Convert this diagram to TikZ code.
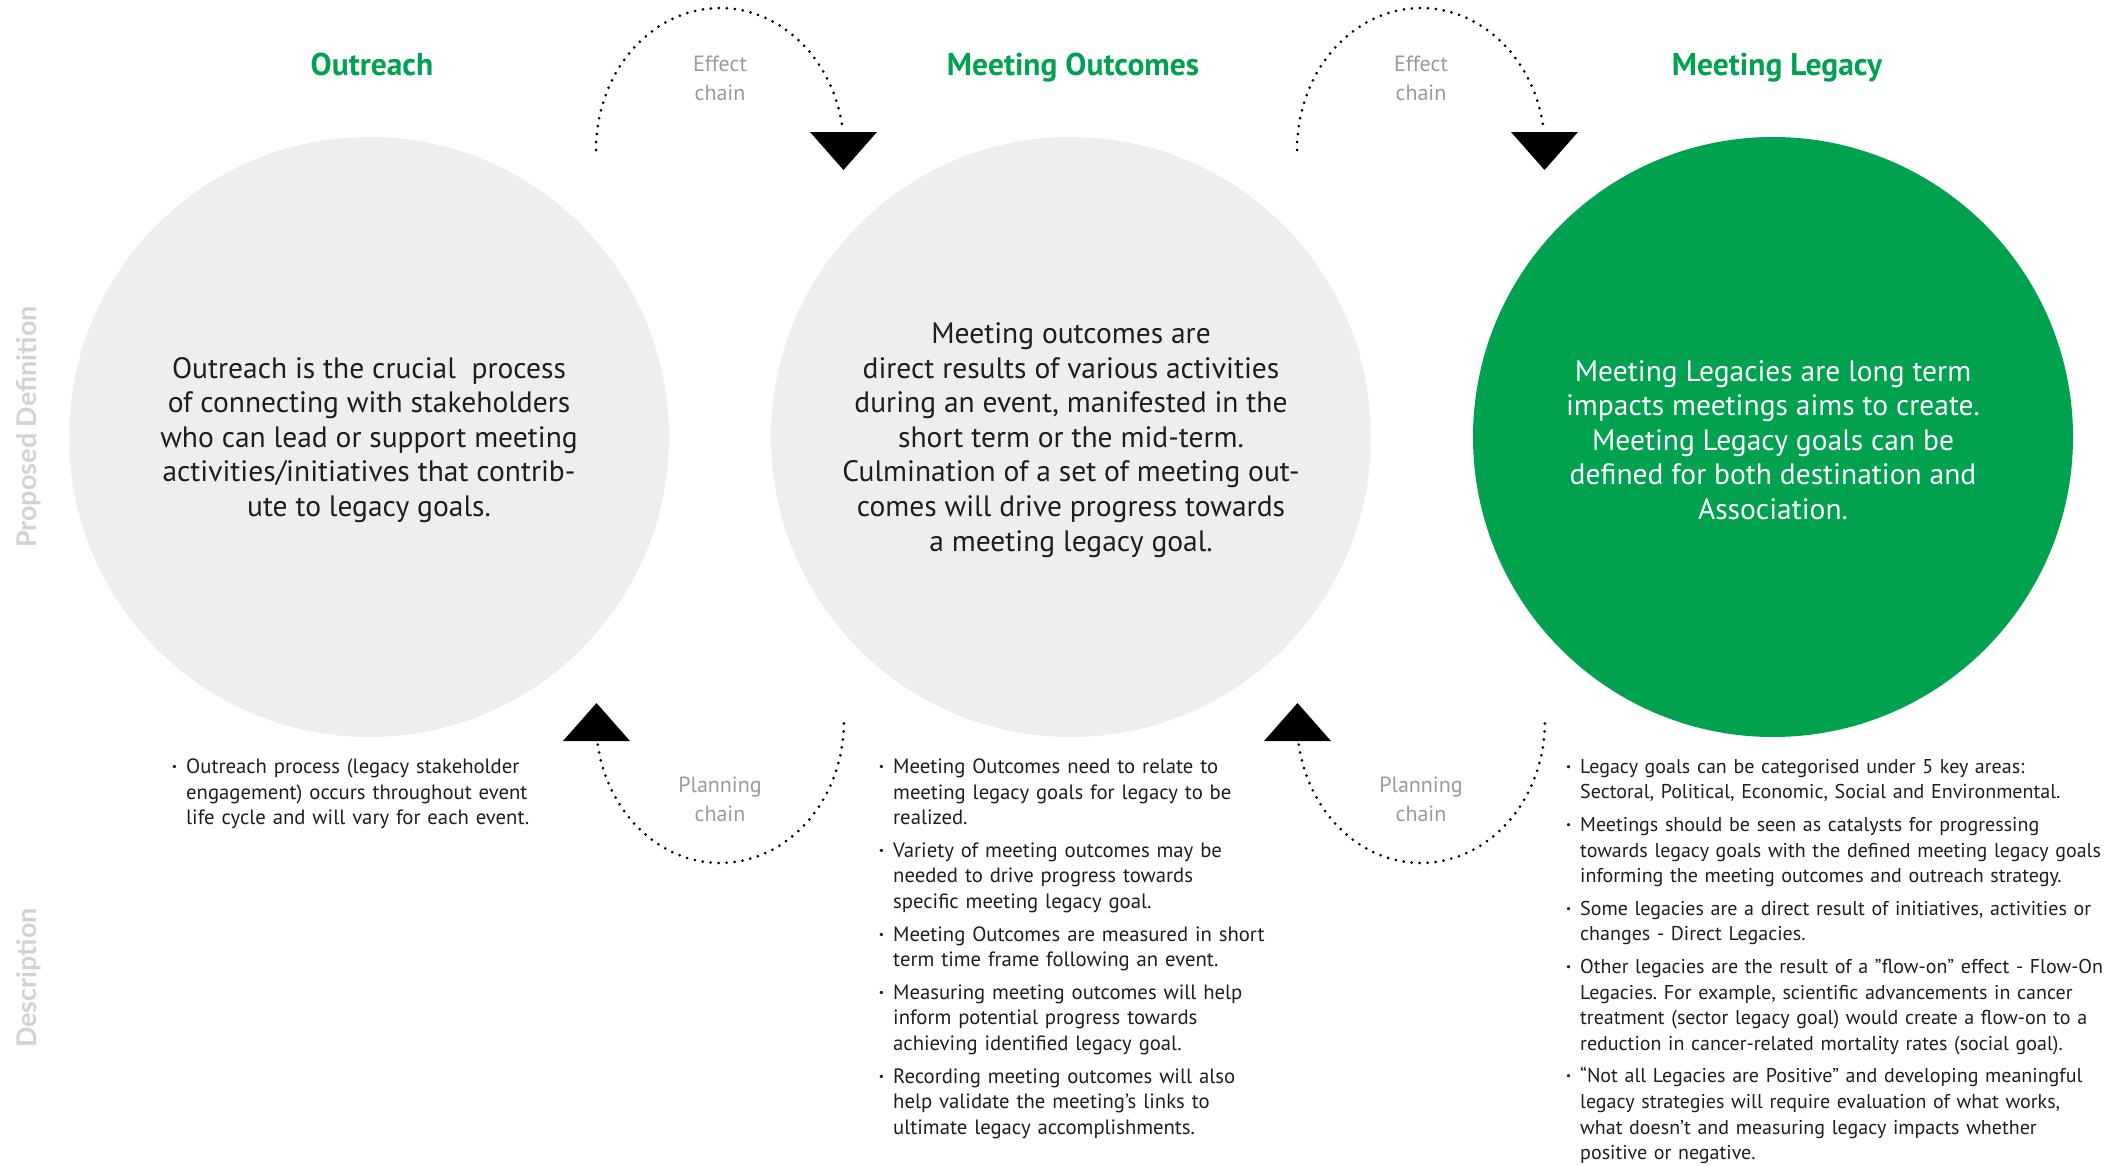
\documentclass[tikz,border=0pt]{standalone}
\usepackage{fontspec}
\setmainfont{PT Sans}
\newfontfamily\sidefont{Lato}
\definecolor{lgreen}{HTML}{00A14F}
\definecolor{circgray}{HTML}{EFEEEC}
\definecolor{chaingray}{HTML}{9B9B9B}
\definecolor{sidegray}{HTML}{D2D2D2}
\definecolor{bodytext}{HTML}{1E1E1E}
\frenchspacing
\newcommand\bitem[1]{\hangindent=14pt\hangafter=0\noindent\llap{\textbf{·}\hspace{9pt}}#1\par}
\newcommand\bsep{\vspace{7pt}}
\newcommand\nl{\hfil\break}
\begin{document}
\begin{tikzpicture}[x=1pt,y=-1pt,
  circbox/.style={circle, minimum size=600pt, inner sep=0pt, draw=none},
  circtext/.style={align=center, font=\fontsize{29.5}{34.6}\selectfont, inner sep=0pt, text=bodytext},
  titletext/.style={font=\fontsize{31.5}{34}\selectfont\bfseries, text=lgreen, inner sep=0pt, anchor=base},
  chainlbl/.style={align=center, font=\fontsize{22}{29}\selectfont, text=chaingray, inner sep=0pt},
  sidelbl/.style={rotate=90, anchor=base, font=\sidefont\bfseries\fontsize{27}{27}\selectfont, text=sidegray, inner sep=0pt},
  blist/.style={anchor=north west, align=left, inner sep=0pt, font=\fontsize{20.7}{25.6}\selectfont, text=bodytext},
  blistsmall/.style={blist, font=\fontsize{20}{25.6}\selectfont},
  dotarc/.style={line width=3pt, dash pattern=on 0pt off 8pt, line cap=round},
  tri/.style={fill=black}]
\useasboundingbox (0,0) rectangle (2123,1165);

% circles
\node[circbox, fill=circgray] (c1) at (369,437) {};
\node[circbox, fill=circgray] (c2) at (1071,437) {};
\node[circbox, fill=lgreen] (c3) at (1773,437) {};

% titles
\node[titletext] (h1) at (372,75) {Outreach};
\node[titletext] (h2) at (1073,75) {Meeting Outcomes};
\node[titletext] (h3) at (1777,75) {Meeting Legacy};

% circle texts
\node[circtext] (t1) at (369,440) {Outreach is the crucial \ process\\ of connecting with stakeholders\\ who can lead or support meeting\\ activities/initiatives that contrib-\\ ute to legacy goals.};
\node[circtext] (t2) at (1071,440) {Meeting outcomes are\\ direct results of various activities\\ during an event, manifested in the\\ short term or the mid-term.\\ Culmination of a set of meeting out-\\ comes will drive progress towards\\ a meeting legacy goal.};
\node[circtext, text=white] (t3) at (1773,440) {Meeting Legacies are long term\\ impacts meetings aims to create.\\ Meeting Legacy goals can be\\ defined for both destination and\\ Association.};

% side labels
\node[sidelbl] (s1) at (36,427) {Proposed Definition};
\node[sidelbl] (s2) at (36,978) {Description};

% effect chains
\node[chainlbl] (e1) at (720,78) {Effect\\chain};
\node[chainlbl] (e2) at (1421,78) {Effect\\chain};
\draw[dotarc] plot[domain=180:350.7, samples=80] ({720+124*cos(\x)},{150+142*sin(\x)});
\draw[dotarc] plot[domain=180:350.7, samples=80] ({1421+124*cos(\x)},{150+142*sin(\x)});
\fill[tri] (810,132) -- (877,132) -- (843.5,170) -- cycle;
\fill[tri] (1511,132) -- (1578,132) -- (1544.5,170) -- cycle;

% planning chains
\node[chainlbl] (p1) at (720,799) {Planning\\chain};
\node[chainlbl] (p2) at (1421,799) {Planning\\chain};
\draw[dotarc] plot[domain=170.4:0, samples=80] ({720+124*cos(\x)},{721+142*sin(\x)});
\draw[dotarc] plot[domain=170.4:0, samples=80] ({1421+124*cos(\x)},{721+142*sin(\x)});
\fill[tri] (563,741) -- (630,741) -- (596.5,703) -- cycle;
\fill[tri] (1264,741) -- (1331,741) -- (1297.5,703) -- cycle;

% descriptions
\node[blist, text width=420pt] (d1) at (172,758.5) {%
\bitem{Outreach process (legacy stakeholder\nl engagement) occurs throughout event\nl life cycle and will vary for each event.}};

\node[blist, text width=440pt] (d2) at (879,758.5) {%
\bitem{Meeting Outcomes need to relate to\nl meeting legacy goals for legacy to be\nl realized.}\bsep
\bitem{Variety of meeting outcomes may be\nl needed to drive progress towards\nl specific meeting legacy goal.}\bsep
\bitem{Meeting Outcomes are measured in short\nl term time frame following an event.}\bsep
\bitem{Measuring meeting outcomes will help\nl inform potential progress towards\nl achieving identified legacy goal.}\bsep
\bitem{Recording meeting outcomes will also\nl help validate the meeting’s links to\nl ultimate legacy accomplishments.}};

\node[blistsmall, text width=540pt] (d3) at (1566,759) {%
\bitem{Legacy goals can be categorised under 5 key areas:\nl Sectoral, Political, Economic, Social and Environmental.}\bsep
\bitem{Meetings should be seen as catalysts for progressing\nl towards legacy goals with the defined meeting legacy goals\nl informing the meeting outcomes and outreach strategy.}\bsep
\bitem{Some legacies are a direct result of initiatives, activities or\nl changes - Direct Legacies.}\bsep
\bitem{Other legacies are the result of a "flow-on" effect - Flow-On\nl Legacies. For example, scientific advancements in cancer\nl treatment (sector legacy goal) would create a flow-on to a\nl reduction in cancer-related mortality rates (social goal).}\bsep
\bitem{“Not all Legacies are Positive” and developing meaningful\nl legacy strategies will require evaluation of what works,\nl what doesn’t and measuring legacy impacts whether\nl positive or negative.}};
\end{tikzpicture}
\end{document}
